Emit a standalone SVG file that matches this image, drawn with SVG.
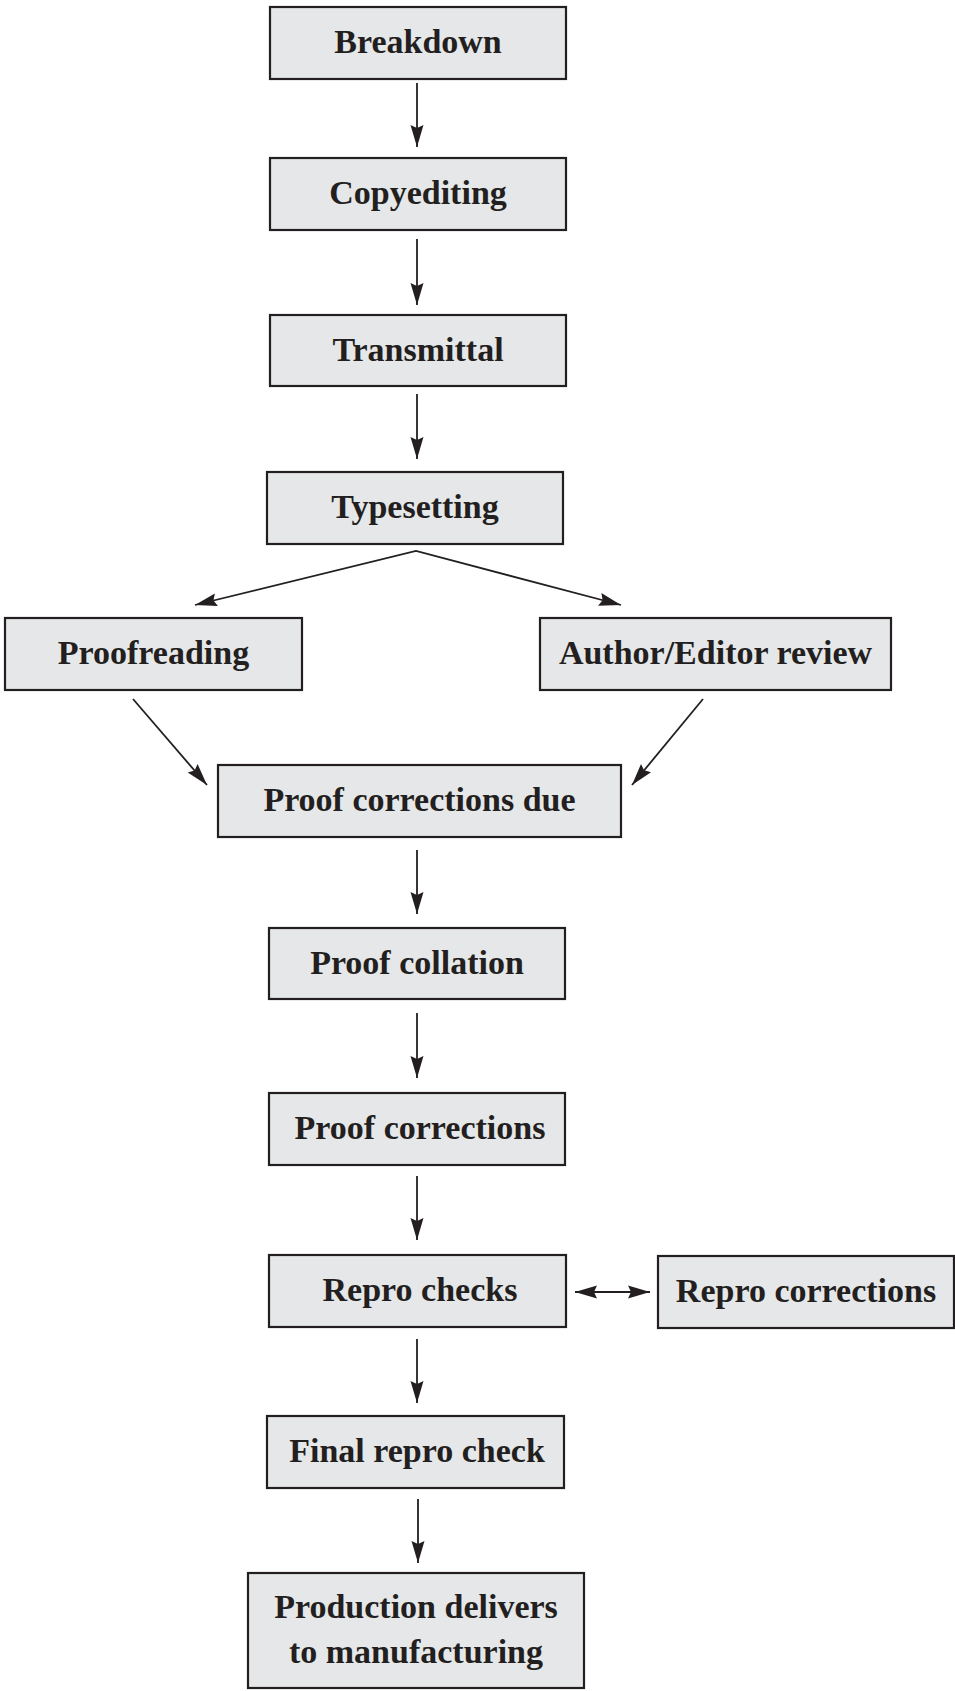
<svg xmlns="http://www.w3.org/2000/svg" width="955" height="1691" viewBox="0 0 955 1691">
<style>
.box{fill:#e6e7e8;stroke:#231f20;stroke-width:2.2}
.t{font-family:"Liberation Serif",serif;font-weight:bold;font-size:34px;fill:#231f20;text-anchor:middle}
.c{stroke:#231f20;stroke-width:1.8;fill:none}
</style>
<defs>
<marker id="ah" markerUnits="userSpaceOnUse" markerWidth="26" markerHeight="16" viewBox="-24 -8 26 16" refX="0" refY="0" orient="auto-start-reverse">
<path d="M0,0 L-22,-6.5 L-19,0 L-22,6.5 Z" fill="#231f20"/>
</marker>
</defs>
<rect width="955" height="1691" fill="#ffffff"/>
<g id="n-breakdown"><rect class="box" x="270" y="7" width="296" height="72"/><text class="t" x="418" y="53">Breakdown</text></g>
<g id="n-copyediting"><rect class="box" x="270" y="158" width="296" height="72"/><text class="t" x="418" y="204">Copyediting</text></g>
<g id="n-transmittal"><rect class="box" x="270" y="315" width="296" height="71"/><text class="t" x="418" y="361">Transmittal</text></g>
<g id="n-typesetting"><rect class="box" x="267" y="472" width="296" height="72"/><text class="t" x="415" y="518">Typesetting</text></g>
<g id="n-proofreading"><rect class="box" x="5" y="618" width="297" height="72"/><text class="t" x="153.5" y="664">Proofreading</text></g>
<g id="n-author"><rect class="box" x="540" y="618" width="351" height="72"/><text class="t" x="715.5" y="664">Author/Editor review</text></g>
<g id="n-proofdue"><rect class="box" x="218" y="765" width="403" height="72"/><text class="t" x="419.5" y="811">Proof corrections due</text></g>
<g id="n-collation"><rect class="box" x="269" y="928" width="296" height="71"/><text class="t" x="417" y="974">Proof collation</text></g>
<g id="n-proofcorr"><rect class="box" x="269" y="1093" width="296" height="72"/><text class="t" x="420" y="1139">Proof corrections</text></g>
<g id="n-reprochecks"><rect class="box" x="269" y="1255" width="297" height="72"/><text class="t" x="420" y="1301">Repro checks</text></g>
<g id="n-reprocorr"><rect class="box" x="658" y="1256" width="296" height="72"/><text class="t" x="806" y="1302">Repro corrections</text></g>
<g id="n-final"><rect class="box" x="267" y="1416" width="297" height="72"/><text class="t" x="417" y="1462">Final repro check</text></g>
<g id="n-production"><rect class="box" x="248" y="1573" width="336" height="115"/><text class="t" x="416" y="1618">Production delivers</text><text class="t" x="416" y="1663">to manufacturing</text></g>
<g id="connectors">
<line class="c" x1="417" y1="83" x2="417" y2="147" marker-end="url(#ah)"/>
<line class="c" x1="417" y1="239" x2="417" y2="305" marker-end="url(#ah)"/>
<line class="c" x1="417" y1="394" x2="417" y2="459" marker-end="url(#ah)"/>
<polyline class="c" points="195,605 416,551 621,605" marker-start="url(#ah)" marker-end="url(#ah)"/>
<line class="c" x1="133" y1="699" x2="207" y2="785" marker-end="url(#ah)"/>
<line class="c" x1="703" y1="699" x2="632" y2="785" marker-end="url(#ah)"/>
<line class="c" x1="417" y1="850" x2="417" y2="914" marker-end="url(#ah)"/>
<line class="c" x1="417" y1="1013" x2="417" y2="1078" marker-end="url(#ah)"/>
<line class="c" x1="417" y1="1176" x2="417" y2="1240" marker-end="url(#ah)"/>
<line class="c" x1="575" y1="1292" x2="650" y2="1292" marker-start="url(#ah)" marker-end="url(#ah)"/>
<line class="c" x1="417" y1="1339" x2="417" y2="1403" marker-end="url(#ah)"/>
<line class="c" x1="418" y1="1499" x2="418" y2="1563" marker-end="url(#ah)"/>
</g>
</svg>
